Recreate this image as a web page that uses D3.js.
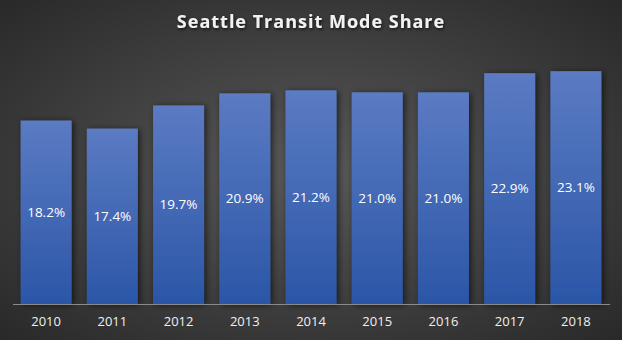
<!DOCTYPE html>
<html>
<head>
<meta charset="utf-8">
<script src="https://cdn.jsdelivr.net/npm/d3@7"></script>
<style>
  html, body { margin: 0; padding: 0; background: #2b2b2b; }
  svg { display: block; }
</style>
</head>
<body>
<svg id="chart" width="622" height="340"></svg>
<script>
// Seattle transit mode share by year (percent)
const years = ["2010", "2011", "2012", "2013", "2014", "2015", "2016", "2017", "2018"];
const shares = [18.2, 17.4, 19.7, 20.9, 21.2, 21.0, 21.0, 22.9, 23.1];
const yDomain = [0, 25];

const W = 622, H = 340;
const margin = { top: 52, right: 13, bottom: 36, left: 13 };

const svg = d3.select("#chart");
const defs = svg.append("defs");

// background: soft radial glow from the centre
const bg = defs.append("radialGradient").attr("id", "bg")
  .attr("cx", "50%").attr("cy", "50%").attr("r", "75%");
bg.append("stop").attr("offset", "0%").attr("stop-color", "#585858");
bg.append("stop").attr("offset", "100%").attr("stop-color", "#262626");

// bar fill: lighter blue at the top, deeper at the base
const barGrad = defs.append("linearGradient").attr("id", "barGrad")
  .attr("x1", 0).attr("y1", 0).attr("x2", 0).attr("y2", 1);
barGrad.append("stop").attr("offset", "0%").attr("stop-color", "#5b7bc3");
barGrad.append("stop").attr("offset", "100%").attr("stop-color", "#2b56a7");

// drop shadow for bars
const sh = defs.append("filter").attr("id", "barShadow")
  .attr("x", "-30%").attr("y", "-10%").attr("width", "170%").attr("height", "130%");
sh.append("feDropShadow").attr("dx", 2).attr("dy", 1).attr("stdDeviation", 3)
  .attr("flood-color", "#000").attr("flood-opacity", 0.6);

const tsh = defs.append("filter").attr("id", "titleShadow")
  .attr("x", "-10%").attr("y", "-30%").attr("width", "120%").attr("height", "160%");
tsh.append("feDropShadow").attr("dx", 1).attr("dy", 1.5).attr("stdDeviation", 1.5)
  .attr("flood-color", "#000").attr("flood-opacity", 0.7);

svg.append("rect").attr("width", W).attr("height", H).attr("fill", "url(#bg)");

const x = d3.scaleBand()
  .domain(years)
  .range([margin.left, W - margin.right])
  .paddingInner(0.23)
  .paddingOuter(0.115);

const y = d3.scaleLinear()
  .domain(yDomain)
  .range([H - margin.bottom, margin.top]);

// title
svg.append("text")
  .attr("x", W / 2).attr("y", 28)
  .attr("text-anchor", "middle")
  .attr("fill", "#f2f2f2")
  .attr("font-family", "'Open Sans', sans-serif")
  .attr("font-weight", "bold")
  .attr("font-size", 18)
  .attr("letter-spacing", 1)
  .attr("filter", "url(#titleShadow)")
  .text("Seattle Transit Mode Share");

const data = years.map((yr, i) => ({ year: yr, value: shares[i] }));

// bars
svg.append("g").selectAll("rect")
  .data(data)
  .join("rect")
  .attr("x", d => x(d.year))
  .attr("y", d => y(d.value))
  .attr("width", x.bandwidth())
  .attr("height", d => y(0) - y(d.value))
  .attr("fill", "url(#barGrad)")
  .attr("filter", "url(#barShadow)");

// value labels centred inside each bar
svg.append("g").selectAll("text")
  .data(data)
  .join("text")
  .attr("x", d => x(d.year) + x.bandwidth() / 2)
  .attr("y", d => (y(d.value) + y(0)) / 2)
  .attr("dy", "0.35em")
  .attr("text-anchor", "middle")
  .attr("fill", "#ffffff")
  .attr("font-family", "'Open Sans', sans-serif")
  .attr("font-size", 13.5)
  .text(d => d.value.toFixed(1) + "%");

// x axis
const xAxis = svg.append("g")
  .attr("transform", `translate(0,${y(0)})`)
  .call(d3.axisBottom(x).tickSize(0).tickPadding(13).tickSizeOuter(0));
xAxis.select(".domain").attr("stroke", "#8a8a8a").attr("stroke-width", 1)
  .attr("d", `M${margin.left},0.5H${W - margin.right + 1}`);
xAxis.selectAll("text")
  .attr("fill", "#f0f0f0")
  .attr("font-family", "'Open Sans', sans-serif")
  .attr("font-size", 13);
</script>
</body>
</html>
